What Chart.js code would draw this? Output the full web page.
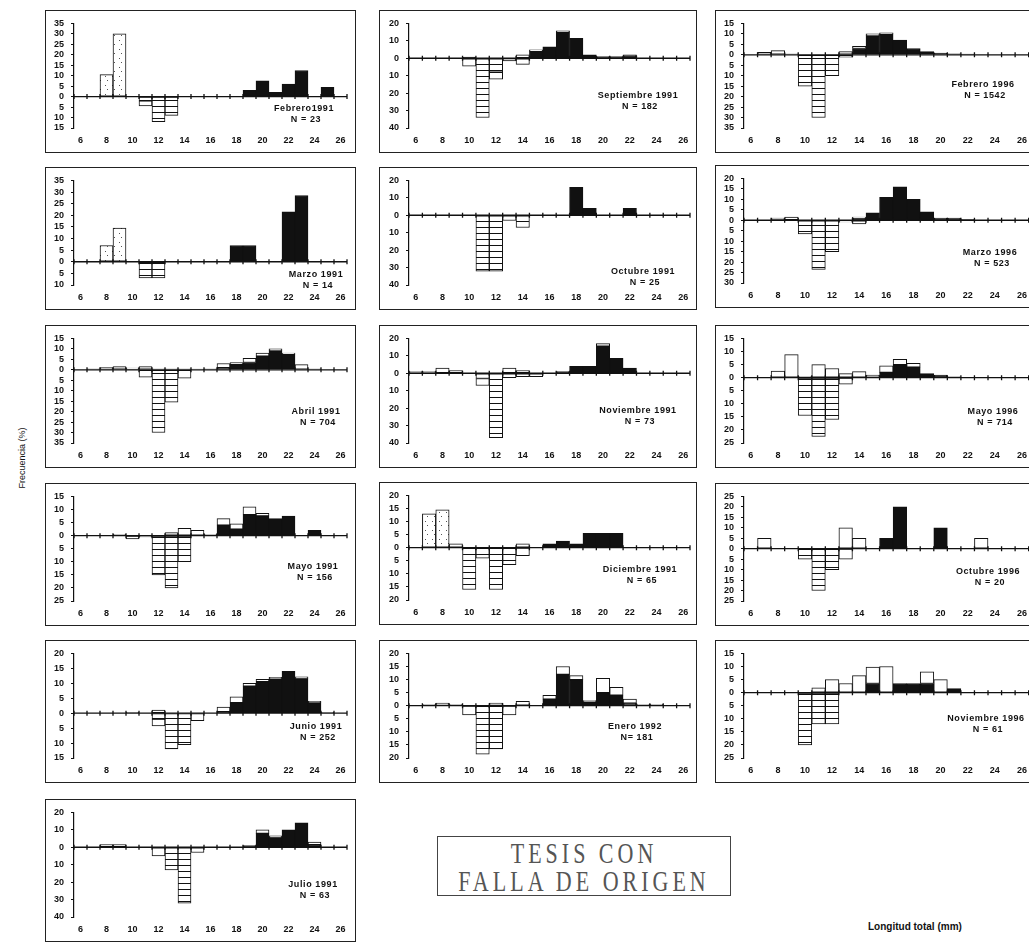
<!DOCTYPE html>
<html lang="es">
<head>
<meta charset="UTF-8">
<title>Frecuencia por longitud total</title>
<style>
  body { margin:0; width:1029px; height:944px; overflow:hidden; background:#fff; position:relative; font-family:Arial, "Liberation Sans", sans-serif; color:#111; }
  .panel { position:absolute; border:1px solid #222; height:141px; overflow:hidden; }
  .panel canvas { position:absolute; left:0; top:0; }
  .lbl { position:absolute; font-weight:bold; font-size:9px; letter-spacing:0.6px; white-space:nowrap; transform:translate(-50%,-50%); }
  #ejeY { position:absolute; left:22px; top:458px; font-size:9px; white-space:nowrap; transform:translate(-50%,-50%) rotate(-90deg); }
  #ejeX { position:absolute; left:868px; top:921px; font-size:10px; font-weight:bold; white-space:nowrap; }
  #sello { position:absolute; left:437px; top:836px; width:292px; height:58px; border:1.5px solid #444; overflow:hidden; }
  #sello div { font-family:"Liberation Serif", "DejaVu Serif", serif; color:#555; text-align:center; font-size:22px; letter-spacing:4px;
               line-height:22px; transform:scaleY(1.3); margin-top:6px; white-space:nowrap; }
</style>
</head>
<body>

<div id="ejeY">Frecuencia (%)</div>
<div id="ejeX">Longitud total (mm)</div>
<div id="sello"><div>TESIS CON</div><div>FALLA DE ORIGEN</div></div>

<script src="https://cdn.jsdelivr.net/npm/chart.js"></script>
<script>
// longitud total (mm), una clase por mm
const longitudes = [6,7,8,9,10,11,12,13,14,15,16,17,18,19,20,21,22,23,24,25,26];

// ---- valores (%) por clase de 6 a 26 mm; negativos = parte inferior del histograma ----
const feb1991Punteado = [0,0,10.5,30,0, 0,0,0,0,0, 0,0,0,0,0, 0,0,0,0,0, 0];
const feb1991Negro    = [0,0,0,0,0, 0,0,0,0,0, 0,0,0,3,7.5, 2,6,12.5,0,4.5, 0];
const feb1991Rayado   = [0,0,0,0,0, -2,-12,-9,0,0, 0,0,0,0,0, 0,0,0,0,0, 0];
const feb1991BlancoN  = [0,0,0,0,0, -2.5,0,0,0,0, 0,0,0,0,0, 0,0,0,0,0, 0];

const sep1991Negro    = [0,0,0,0,0.7, 0,0,0,0,4, 6.5,15,11.5,2,1, 1,1.5,0,0,0, 0];
const sep1991Blanco   = [0,0,0,0,0, 0,0,0,2,0.8, 0,0.7,0,0,0, 0,0.5,0,0,0, 0];
const sep1991Rayado   = [0,0,0,0,0, -34,-8,0,0,0, 0,0,0,0,0, 0,0,0,0,0, 0];
const sep1991BlancoN  = [0,0,0,0,-4.5, 0,-4,-1.5,-3.5,0, 0,0,0,0,0, 0,0,0,0,0, 0];

const feb1996Negro    = [0,0,0,0,0, 0,0,0,3,9, 10,7,3,1.5,0.8, 0.5,0.3,0,0,0, 0];
const feb1996Blanco   = [0,1.2,2,0.5,0, 0,0,1.5,1,1, 0.5,0,0,0,0, 0,0,0,0,0, 0];
const feb1996Rayado   = [0,0,0,0,-15, -30,-10,0,0,0, 0,0,0,0,0, 0,0,0,0,0, 0];
const feb1996BlancoN  = [0,0,0,0,0, 0,0,-1.2,0,0, 0,0,0,0,0, 0,0,0,0,0, 0];

const mar1991Punteado = [0,0,7,14.5,0, 0,0,0,0,0, 0,0,0,0,0, 0,0,0,0,0, 0];
const mar1991Negro    = [0,0,0,0,0, 0,0,0,0,0, 0,0,7,7,0, 0,21.5,28.5,0,0, 0];
const mar1991Rayado   = [0,0,0,0,0, -7,-7,0,0,0, 0,0,0,0,0, 0,0,0,0,0, 0];

const oct1991Negro    = [0,0,0,0,0, 0,0,0,0,0, 0,0,16,4,0, 0,4,0,0,0, 0];
const oct1991Rayado   = [0,0,0,0,0, -32,-32,0,-7,0, 0,0,0,0,0, 0,0,0,0,0, 0];
const oct1991BlancoN  = [0,0,0,0,0, 0,0,-3,0,0, 0,0,0,0,0, 0,0,0,0,0, 0];

const mar1996Negro    = [0,0,0,0,0, 0,0,0,1,3.5, 11,16,10,4,1, 1,0.3,0,0,0, 0];
const mar1996Blanco   = [0,0,1,1.5,0, 0,0,0,0.5,0, 0,0,0,0,0, 0,0,0,0,0, 0];
const mar1996Rayado   = [0,0,0,0,-6.5, -23.5,-15,0,0,0, 0,0,0,0,0, 0,0,0,0,0, 0];
const mar1996BlancoN  = [0,0,0,0,0, 0,0,-0.8,-1.8,0, 0,0,0,0,0, 0,0,0,0,0, 0];

const abr1991Negro    = [0,0,0,0,0, 0,0,0,0,0, 0,1,2.5,3.5,6.5, 9,7.5,0,0,0, 0];
const abr1991Blanco   = [0,0.5,1,1.5,0.8, 1.5,0.5,0.5,0.5,0.3, 0.5,2,1,2,1.5, 1,0.5,2.5,0.5,0, 0];
const abr1991Rayado   = [0,0,0,0,0, 0,-30,-15.5,0,0, 0,0,0,0,0, 0,0,0,0,0, 0];
const abr1991BlancoN  = [0,0,0,0,0, -3.5,0,0,-4,0, 0,0,0,0,0, 0,0,0,0,0, 0];

const nov1991Negro    = [0,0,0,0,0, 0,0,0,0,0, 0,1,4,4,15.5, 8.5,3,0,0,0, 0];
const nov1991Blanco   = [1,1,3,1.5,0, 0,0,3,1.5,0, 0,0,0,0,1.5, 0,0,0,0,0, 0];
const nov1991Rayado   = [0,0,0,0,0, -3,-37,0,0,0, 0,0,0,0,0, 0,0,0,0,0, 0];
const nov1991BlancoN  = [0,0,0,0,0, -4,0,-2.5,-2,-2, 0,0,0,0,0, 0,0,0,0,0, 0];

const may1996Negro    = [0,0,0,0,0, 0,0,0,0,0, 2,5,4,1.5,1, 0.3,0,0,0,0, 0];
const may1996Blanco   = [0,0,2.5,8.8,0.5, 5,3.5,1.5,2.3,1, 2.5,2,1.5,0,0, 0,0,0,0,0, 0];
const may1996Rayado   = [0,0,0,0,-14.5, -22.5,-16,0,0,0, 0,0,0,0,0, 0,0,0,0,0, 0];
const may1996BlancoN  = [0,0,0,0,0, 0,0,-2.5,0,0, 0,0,0,0,0, 0,0,0,0,0, 0];

const may1991Negro    = [0,0,0,0,0, 0,0,0,0,0, 0,4,2.5,8,7.5, 6.5,7.5,0,2,0, 0];
const may1991Blanco   = [0,0,0,0.5,0, 0,0,1.2,2.8,2, 0.5,2.5,2,3,1, 0,0,0,0,0, 0];
const may1991Rayado   = [0,0,0,0,0, 0,-15,-20,-10,0, 0,0,0,0,0, 0,0,0,0,0, 0];
const may1991BlancoN  = [0,0,0,0,-1.3, -0.5,0,0,0,0, 0,0,0,0,0, 0,0,0,0,0, 0];

const dic1991Punteado = [0,13,14.5,0,0, 0,0,0,0,0, 0,0,0,0,0, 0,0,0,0,0, 0];
const dic1991Negro    = [0,0,0,0,0, 0,0,0,0,0, 1.5,2.5,1.5,5.5,5.5, 5.5,0,0,0,0, 0];
const dic1991Blanco   = [0,0,0,1.5,0, 0,0,0,1.5,0, 0,0,0,0,0, 0,0,0,0,0, 0];
const dic1991Rayado   = [0,0,0,0,-16, -4,-16,-6.5,0,0, 0,0,0,0,0, 0,0,0,0,0, 0];
const dic1991BlancoN  = [0,0,0,0,0, 0,0,0,-3,0, 0,0,0,0,0, 0,0,0,0,0, 0];

const oct1996Negro    = [0,0,0,0,0, 0,0,0,0,0, 5,20,0,0,10, 0,0,0,0,0, 0];
const oct1996Blanco   = [0,5,0,0,0, 0,0,10,5,0, 0,0,0,0,0, 0,0,5,0,0, 0];
const oct1996Rayado   = [0,0,0,0,-5, -20,-10,0,0,0, 0,0,0,0,0, 0,0,0,0,0, 0];
const oct1996BlancoN  = [0,0,0,0,0, 0,0,-5,0,0, 0,0,0,0,0, 0,0,0,0,0, 0];

const jun1991Negro    = [0,0,0,0,0, 0,0,0,0,0, 0,0.5,3.5,9,10.5, 11.5,14,11.5,3.5,0, 0];
const jun1991Blanco   = [0,0,0,0,0.3, 0,1,0,0,0, 0,1.5,2,1,0.8, 0.5,0,0.7,0.5,0.3, 0];
const jun1991Rayado   = [0,0,0,0,0, 0,-2,-12,-10.5,0, 0,0,0,0,0, 0,0,0,0,0, 0];
const jun1991BlancoN  = [0,0,0,0,0, 0,-2.3,0,0,-2.5, 0,0,0,0,0, 0,0,0,0,0, 0];

const ene1992Negro    = [0,0,0,0,0, 0,0,0,0,0, 2.5,12,10,1.5,5, 4,1,0,0,0, 0];
const ene1992Blanco   = [0,0.5,1,0.5,0, 0,1,0,1.7,0, 1.5,3,1.5,0.5,5.5, 3,1.5,0.5,0.5,0, 0];
const ene1992Rayado   = [0,0,0,0,0, -18.5,-16.5,0,0,0, 0,0,0,0,0, 0,0,0,0,0, 0];
const ene1992BlancoN  = [0,0,0,0,-3.5, 0,0,-3.5,0,0, 0,0,0,0,0, 0,0,0,0,0, 0];

const nov1996Negro    = [0,0,0,0,0, 0,0,0,0,3.5, 0,3.5,3.5,3.5,0, 1.5,0,0,0,0, 0];
const nov1996Blanco   = [0,0,0,0,0, 1.8,5,3.5,6.5,6.3, 10,0,0,4.5,5, 0,0,0,0,0, 0];
const nov1996Rayado   = [0,0,0,0,-20, -12,-12,0,0,0, 0,0,0,0,0, 0,0,0,0,0, 0];

const jul1991Negro    = [0,0,0,0,0, 0,0,0,0,0, 0,0,0,1,8, 5.5,10,14,1.5,0, 0];
const jul1991Blanco   = [0,0,1.5,1.5,0, 0,0,0,0,0, 0,0,0,0,2, 1,0,0,1.5,0, 0];
const jul1991Rayado   = [0,0,0,0,0, 0,0,-13,-32,0, 0,0,0,0,0, 0,0,0,0,0, 0];
const jul1991BlancoN  = [0,0,0,0,0, 0,-5,0,0,-3, 0,0,0,0,0, 0,0,0,0,0, 0];

// ---- un elemento por panel, en orden de lectura (filas, de izquierda a derecha) ----
const titulos = ['Febrero1991','Septiembre 1991','Febrero 1996','Marzo 1991','Octubre 1991','Marzo 1996',
                 'Abril 1991','Noviembre 1991','Mayo 1996','Mayo 1991','Diciembre 1991','Octubre 1996',
                 'Junio 1991','Enero 1992','Noviembre 1996','Julio 1991'];
const tamanos = ['N = 23','N = 182','N = 1542','N = 14','N = 25','N = 523','N = 704','N = 73',
                 'N = 714','N = 156','N = 65','N = 20','N = 252','N= 181','N = 61','N = 63'];
const ejeMax  = [35,20,15, 35,20,20, 15,20,15, 15,20,25, 20,20,15, 20];
const ejeMin  = [-15,-40,-35, -10,-40,-30, -35,-40,-25, -25,-20,-25, -15,-20,-25, -40];
const ejePaso = [5,10,5, 5,10,5, 5,10,5, 5,5,5, 5,5,5, 10];

const seriesNegro    = [feb1991Negro, sep1991Negro, feb1996Negro, mar1991Negro, oct1991Negro, mar1996Negro,
                        abr1991Negro, nov1991Negro, may1996Negro, may1991Negro, dic1991Negro, oct1996Negro,
                        jun1991Negro, ene1992Negro, nov1996Negro, jul1991Negro];
const seriesBlanco   = [null, sep1991Blanco, feb1996Blanco, null, null, mar1996Blanco,
                        abr1991Blanco, nov1991Blanco, may1996Blanco, may1991Blanco, dic1991Blanco, oct1996Blanco,
                        jun1991Blanco, ene1992Blanco, nov1996Blanco, jul1991Blanco];
const seriesPunteado = [feb1991Punteado, null, null, mar1991Punteado, null, null,
                        null, null, null, null, dic1991Punteado, null, null, null, null, null];
const seriesRayado   = [feb1991Rayado, sep1991Rayado, feb1996Rayado, mar1991Rayado, oct1991Rayado, mar1996Rayado,
                        abr1991Rayado, nov1991Rayado, may1996Rayado, may1991Rayado, dic1991Rayado, oct1996Rayado,
                        jun1991Rayado, ene1992Rayado, nov1996Rayado, jul1991Rayado];
const seriesBlancoN  = [feb1991BlancoN, sep1991BlancoN, feb1996BlancoN, null, oct1991BlancoN, mar1996BlancoN,
                        abr1991BlancoN, nov1991BlancoN, may1996BlancoN, may1991BlancoN, dic1991BlancoN, oct1996BlancoN,
                        jun1991BlancoN, ene1992BlancoN, null, jul1991BlancoN];

// ---- maquetacion ----
const columnas = [
  { izq:45,  ancho:311, ejeY:28, der:8 },
  { izq:379, ancho:318, ejeY:29, der:6 },
  { izq:715, ancho:320, ejeY:28, der:4 }
];
const cajas = [[0,10],[1,10],[2,10],[0,167],[1,167],[2,165],[0,325],[1,325],[2,325],
               [0,483],[1,482],[2,483],[0,640],[1,640],[2,640],[0,799]];
const posTitulo = [[258,97],[258,84],[267,73],[270,106],[263,103],[274,86],[270,85],[258,84],
                   [277,85],[267,82],[260,86],[272,87],[270,85],[255,85],[270,77],[267,84]];

const fuenteEje = { family:'Arial', size:9, weight:'bold' };

function patron(ctx, tipo){
  const c = document.createElement('canvas');
  const g = c.getContext('2d');
  if(tipo==='rayas'){
    c.width=4; c.height=6;
    g.fillStyle='#fff'; g.fillRect(0,0,4,6);
    g.fillStyle='#111'; g.fillRect(0,5,4,1.2);
  } else {
    c.width=7; c.height=9;
    g.fillStyle='#fff'; g.fillRect(0,0,7,9);
    g.fillStyle='#555'; g.fillRect(3,2,1,1); g.fillRect(5,6,1,1);
  }
  return ctx.createPattern(c,'repeat');
}

// linea del cero con sus marcas entre clases
const lineaCero = {
  id:'lineaCero',
  afterDatasetsDraw(chart){
    const {ctx, chartArea:a, scales:{x,y}} = chart;
    const y0 = y.getPixelForValue(0);
    const paso = x.getPixelForValue(1) - x.getPixelForValue(0);
    ctx.save();
    ctx.strokeStyle='#111'; ctx.lineWidth=1.3;
    ctx.beginPath();
    ctx.moveTo(a.left, y0); ctx.lineTo(a.right, y0);
    for(let i=0;i<=longitudes.length;i++){
      const px = x.getPixelForValue(0) + (i-0.5)*paso;
      ctx.moveTo(px, y0-2.5); ctx.lineTo(px, y0+2.5);
    }
    ctx.stroke();
    ctx.restore();
  }
};

const limpia = arr => arr.map(v => v===0 ? null : v);

titulos.forEach((titulo, k) => {
  const col = columnas[cajas[k][0]];
  const div = document.createElement('div');
  div.className='panel';
  div.style.left = col.izq+'px';
  div.style.top = cajas[k][1]+'px';
  div.style.width = (col.ancho-2)+'px';
  document.body.appendChild(div);

  const cv = document.createElement('canvas');
  cv.width = col.ancho-2; cv.height = 141;
  div.appendChild(cv);
  const ctx = cv.getContext('2d');

  const datasets = [];
  if(seriesNegro[k])    datasets.push({ data:limpia(seriesNegro[k]),    backgroundColor:'#111' });
  if(seriesBlanco[k])   datasets.push({ data:limpia(seriesBlanco[k]),   backgroundColor:'#fff' });
  if(seriesPunteado[k]) datasets.push({ data:limpia(seriesPunteado[k]), backgroundColor:patron(ctx,'puntos') });
  if(seriesRayado[k])   datasets.push({ data:limpia(seriesRayado[k]),   backgroundColor:patron(ctx,'rayas') });
  if(seriesBlancoN[k])  datasets.push({ data:limpia(seriesBlancoN[k]),  backgroundColor:'#fff' });

  new Chart(ctx, {
    type:'bar',
    data:{ labels:longitudes, datasets },
    options:{
      responsive:false, animation:false,
      layout:{ padding:{ top:10, right:col.der, left:0, bottom:0 } },
      plugins:{ legend:{display:false}, tooltip:{enabled:false} },
      datasets:{ bar:{ barPercentage:1, categoryPercentage:1, borderColor:'#111', borderWidth:1, borderSkipped:false } },
      scales:{
        x:{
          stacked:true,
          grid:{ display:false, drawTicks:false },
          border:{ display:false },
          ticks:{ autoSkip:false, maxRotation:0, padding:7, color:'#111', font:fuenteEje,
                  callback:(v,i) => longitudes[i]%2===0 ? String(longitudes[i]) : '' },
          afterFit:s => { s.height = 24; }
        },
        y:{
          stacked:true, min:ejeMin[k], max:ejeMax[k],
          ticks:{ stepSize:ejePaso[k], autoSkip:false, padding:7, color:'#111', font:fuenteEje, callback:v => Math.abs(v) },
          grid:{ drawOnChartArea:false, tickLength:3, color:'#111' },
          border:{ color:'#111', width:1.2 },
          afterFit:s => { s.width = col.ejeY; }
        }
      }
    },
    plugins:[lineaCero]
  });

  const t = document.createElement('div');
  t.className='lbl'; t.textContent = titulo;
  t.style.left = posTitulo[k][0]+'px'; t.style.top = posTitulo[k][1]+'px';
  div.appendChild(t);
  const n = document.createElement('div');
  n.className='lbl'; n.textContent = tamanos[k];
  n.style.left = (posTitulo[k][0]+2)+'px'; n.style.top = (posTitulo[k][1]+11)+'px';
  div.appendChild(n);
});
</script>
</body>
</html>
